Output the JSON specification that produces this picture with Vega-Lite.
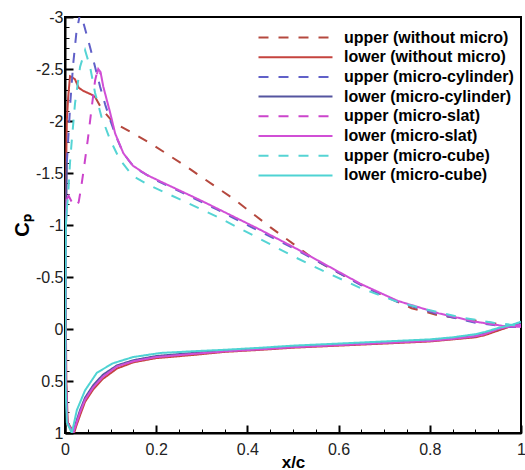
{
"$schema":"https://vega.github.io/schema/vega-lite/v6.json",
"width":456,"height":416,
"autosize":{"type":"none"},
"padding":{"left":65,"top":17,"right":4,"bottom":37},
"background":"white",
"config":{"view":{"stroke":"black","strokeWidth":2},"font":"Liberation Sans","axis":{"grid":false}},
"data":{"values":[
{"s":"upper (without micro)","g":0,"i":0,"x":0.066,"y":-2.23},
{"s":"upper (without micro)","g":0,"i":1,"x":0.08,"y":-2.12},
{"s":"upper (without micro)","g":0,"i":2,"x":0.105,"y":-1.99},
{"s":"upper (without micro)","g":0,"i":3,"x":0.15,"y":-1.88},
{"s":"upper (without micro)","g":0,"i":4,"x":0.186,"y":-1.79},
{"s":"upper (without micro)","g":0,"i":5,"x":0.27,"y":-1.55},
{"s":"upper (without micro)","g":0,"i":6,"x":0.37,"y":-1.25},
{"s":"upper (without micro)","g":0,"i":7,"x":0.45,"y":-0.98},
{"s":"upper (without micro)","g":0,"i":8,"x":0.55,"y":-0.66},
{"s":"upper (without micro)","g":0,"i":9,"x":0.6,"y":-0.54},
{"s":"upper (without micro)","g":0,"i":10,"x":0.68,"y":-0.36},
{"s":"upper (without micro)","g":0,"i":11,"x":0.76,"y":-0.2},
{"s":"upper (without micro)","g":0,"i":12,"x":0.82,"y":-0.13},
{"s":"upper (without micro)","g":0,"i":13,"x":0.87,"y":-0.1},
{"s":"upper (without micro)","g":0,"i":14,"x":0.92,"y":-0.07},
{"s":"upper (without micro)","g":0,"i":15,"x":0.96,"y":-0.04},
{"s":"upper (without micro)","g":0,"i":16,"x":1.0,"y":-0.01},

{"s":"lower (without micro)","g":0,"i":0,"x":1.0,"y":-0.03},
{"s":"lower (without micro)","g":0,"i":1,"x":0.98,"y":-0.03},
{"s":"lower (without micro)","g":0,"i":2,"x":0.96,"y":0.0},
{"s":"lower (without micro)","g":0,"i":3,"x":0.94,"y":0.03},
{"s":"lower (without micro)","g":0,"i":4,"x":0.92,"y":0.06},
{"s":"lower (without micro)","g":0,"i":5,"x":0.9,"y":0.08},
{"s":"lower (without micro)","g":0,"i":6,"x":0.85,"y":0.1},
{"s":"lower (without micro)","g":0,"i":7,"x":0.8,"y":0.12},
{"s":"lower (without micro)","g":0,"i":8,"x":0.7,"y":0.14},
{"s":"lower (without micro)","g":0,"i":9,"x":0.6,"y":0.16},
{"s":"lower (without micro)","g":0,"i":10,"x":0.5,"y":0.18},
{"s":"lower (without micro)","g":0,"i":11,"x":0.43,"y":0.2},
{"s":"lower (without micro)","g":0,"i":12,"x":0.35,"y":0.22},
{"s":"lower (without micro)","g":0,"i":13,"x":0.28,"y":0.25},
{"s":"lower (without micro)","g":0,"i":14,"x":0.2,"y":0.28},
{"s":"lower (without micro)","g":0,"i":15,"x":0.15,"y":0.32},
{"s":"lower (without micro)","g":0,"i":16,"x":0.114,"y":0.38},
{"s":"lower (without micro)","g":0,"i":17,"x":0.083,"y":0.48},
{"s":"lower (without micro)","g":0,"i":18,"x":0.062,"y":0.58},
{"s":"lower (without micro)","g":0,"i":19,"x":0.044,"y":0.7},
{"s":"lower (without micro)","g":0,"i":20,"x":0.033,"y":0.83},
{"s":"lower (without micro)","g":0,"i":21,"x":0.025,"y":0.93},
{"s":"lower (without micro)","g":0,"i":22,"x":0.02,"y":1.0},
{"s":"lower (without micro)","g":0,"i":23,"x":0.006,"y":0.9},
{"s":"lower (without micro)","g":0,"i":24,"x":0.003,"y":0.5},
{"s":"lower (without micro)","g":0,"i":25,"x":0.002,"y":0.0},
{"s":"lower (without micro)","g":0,"i":26,"x":0.002,"y":-1.0},
{"s":"lower (without micro)","g":0,"i":27,"x":0.003,"y":-1.7},
{"s":"lower (without micro)","g":0,"i":28,"x":0.004,"y":-2.01},
{"s":"lower (without micro)","g":0,"i":29,"x":0.007,"y":-2.23},
{"s":"lower (without micro)","g":0,"i":30,"x":0.011,"y":-2.43},
{"s":"lower (without micro)","g":0,"i":31,"x":0.016,"y":-2.42},
{"s":"lower (without micro)","g":0,"i":32,"x":0.022,"y":-2.4},
{"s":"lower (without micro)","g":0,"i":33,"x":0.03,"y":-2.32},
{"s":"lower (without micro)","g":0,"i":34,"x":0.04,"y":-2.29},
{"s":"lower (without micro)","g":0,"i":35,"x":0.05,"y":-2.27},
{"s":"lower (without micro)","g":0,"i":36,"x":0.06,"y":-2.25},
{"s":"lower (without micro)","g":0,"i":37,"x":0.066,"y":-2.23},

{"s":"upper (micro-cylinder)","g":0,"i":0,"x":0.004,"y":-1.6},
{"s":"upper (micro-cylinder)","g":0,"i":1,"x":0.007,"y":-1.82},
{"s":"upper (micro-cylinder)","g":0,"i":2,"x":0.012,"y":-2.2},
{"s":"upper (micro-cylinder)","g":0,"i":3,"x":0.018,"y":-2.55},
{"s":"upper (micro-cylinder)","g":0,"i":4,"x":0.025,"y":-2.85},
{"s":"upper (micro-cylinder)","g":0,"i":5,"x":0.033,"y":-3.03},
{"s":"upper (micro-cylinder)","g":0,"i":6,"x":0.04,"y":-2.95},
{"s":"upper (micro-cylinder)","g":0,"i":7,"x":0.055,"y":-2.71},
{"s":"upper (micro-cylinder)","g":0,"i":8,"x":0.066,"y":-2.52},
{"s":"upper (micro-cylinder)","g":0,"i":9,"x":0.077,"y":-2.33},
{"s":"upper (micro-cylinder)","g":0,"i":10,"x":0.088,"y":-2.16},
{"s":"upper (micro-cylinder)","g":0,"i":11,"x":0.099,"y":-2.01},
{"s":"upper (micro-cylinder)","g":0,"i":12,"x":0.113,"y":-1.84},
{"s":"upper (micro-cylinder)","g":0,"i":13,"x":0.128,"y":-1.69},
{"s":"upper (micro-cylinder)","g":0,"i":14,"x":0.145,"y":-1.59},
{"s":"upper (micro-cylinder)","g":0,"i":15,"x":0.164,"y":-1.52},
{"s":"upper (micro-cylinder)","g":0,"i":16,"x":0.2,"y":-1.43},
{"s":"upper (micro-cylinder)","g":0,"i":17,"x":0.267,"y":-1.29},
{"s":"upper (micro-cylinder)","g":0,"i":18,"x":0.333,"y":-1.15},
{"s":"upper (micro-cylinder)","g":0,"i":19,"x":0.413,"y":-0.97},
{"s":"upper (micro-cylinder)","g":0,"i":20,"x":0.5,"y":-0.78},
{"s":"upper (micro-cylinder)","g":0,"i":21,"x":0.55,"y":-0.66},
{"s":"upper (micro-cylinder)","g":0,"i":22,"x":0.65,"y":-0.42},
{"s":"upper (micro-cylinder)","g":0,"i":23,"x":0.73,"y":-0.26},
{"s":"upper (micro-cylinder)","g":0,"i":24,"x":0.82,"y":-0.14},
{"s":"upper (micro-cylinder)","g":0,"i":25,"x":0.9,"y":-0.06},
{"s":"upper (micro-cylinder)","g":0,"i":26,"x":0.975,"y":-0.02},
{"s":"upper (micro-cylinder)","g":0,"i":27,"x":1.0,"y":-0.02},

{"s":"lower (micro-cylinder)","g":0,"i":0,"x":1.0,"y":-0.05},
{"s":"lower (micro-cylinder)","g":0,"i":1,"x":0.98,"y":-0.03},
{"s":"lower (micro-cylinder)","g":0,"i":2,"x":0.95,"y":0.0},
{"s":"lower (micro-cylinder)","g":0,"i":3,"x":0.92,"y":0.04},
{"s":"lower (micro-cylinder)","g":0,"i":4,"x":0.9,"y":0.07},
{"s":"lower (micro-cylinder)","g":0,"i":5,"x":0.85,"y":0.09},
{"s":"lower (micro-cylinder)","g":0,"i":6,"x":0.8,"y":0.11},
{"s":"lower (micro-cylinder)","g":0,"i":7,"x":0.7,"y":0.13},
{"s":"lower (micro-cylinder)","g":0,"i":8,"x":0.6,"y":0.15},
{"s":"lower (micro-cylinder)","g":0,"i":9,"x":0.5,"y":0.17},
{"s":"lower (micro-cylinder)","g":0,"i":10,"x":0.43,"y":0.19},
{"s":"lower (micro-cylinder)","g":0,"i":11,"x":0.35,"y":0.21},
{"s":"lower (micro-cylinder)","g":0,"i":12,"x":0.28,"y":0.23},
{"s":"lower (micro-cylinder)","g":0,"i":13,"x":0.2,"y":0.26},
{"s":"lower (micro-cylinder)","g":0,"i":14,"x":0.15,"y":0.3},
{"s":"lower (micro-cylinder)","g":0,"i":15,"x":0.114,"y":0.35},
{"s":"lower (micro-cylinder)","g":0,"i":16,"x":0.083,"y":0.44},
{"s":"lower (micro-cylinder)","g":0,"i":17,"x":0.062,"y":0.54},
{"s":"lower (micro-cylinder)","g":0,"i":18,"x":0.044,"y":0.66},
{"s":"lower (micro-cylinder)","g":0,"i":19,"x":0.033,"y":0.78},
{"s":"lower (micro-cylinder)","g":0,"i":20,"x":0.024,"y":0.9},
{"s":"lower (micro-cylinder)","g":0,"i":21,"x":0.018,"y":1.0},
{"s":"lower (micro-cylinder)","g":0,"i":22,"x":0.005,"y":0.9},
{"s":"lower (micro-cylinder)","g":0,"i":23,"x":0.002,"y":0.5},
{"s":"lower (micro-cylinder)","g":0,"i":24,"x":0.001,"y":0.0},
{"s":"lower (micro-cylinder)","g":0,"i":25,"x":0.002,"y":-1.0},
{"s":"lower (micro-cylinder)","g":0,"i":26,"x":0.004,"y":-1.6},

{"s":"upper (micro-slat)","g":0,"i":0,"x":0.004,"y":-1.25},
{"s":"upper (micro-slat)","g":0,"i":1,"x":0.008,"y":-1.28},
{"s":"upper (micro-slat)","g":0,"i":2,"x":0.015,"y":-1.22},
{"s":"upper (micro-slat)","g":0,"i":3,"x":0.024,"y":-1.18},
{"s":"upper (micro-slat)","g":0,"i":4,"x":0.03,"y":-1.22},
{"s":"upper (micro-slat)","g":0,"i":5,"x":0.035,"y":-1.35},
{"s":"upper (micro-slat)","g":0,"i":6,"x":0.04,"y":-1.5},
{"s":"upper (micro-slat)","g":0,"i":7,"x":0.05,"y":-1.82},
{"s":"upper (micro-slat)","g":0,"i":8,"x":0.058,"y":-2.11},
{"s":"upper (micro-slat)","g":0,"i":9,"x":0.066,"y":-2.39},
{"s":"upper (micro-slat)","g":0,"i":10,"x":0.071,"y":-2.48},
{"s":"upper (micro-slat)","g":0,"i":11,"x":0.074,"y":-2.5},
{"s":"upper (micro-slat)","g":0,"i":12,"x":0.078,"y":-2.45},

{"s":"lower (micro-slat)","g":0,"i":0,"x":1.0,"y":-0.04},
{"s":"lower (micro-slat)","g":0,"i":1,"x":0.98,"y":-0.03},
{"s":"lower (micro-slat)","g":0,"i":2,"x":0.95,"y":0.0},
{"s":"lower (micro-slat)","g":0,"i":3,"x":0.92,"y":0.05},
{"s":"lower (micro-slat)","g":0,"i":4,"x":0.9,"y":0.07},
{"s":"lower (micro-slat)","g":0,"i":5,"x":0.85,"y":0.095},
{"s":"lower (micro-slat)","g":0,"i":6,"x":0.8,"y":0.115},
{"s":"lower (micro-slat)","g":0,"i":7,"x":0.7,"y":0.135},
{"s":"lower (micro-slat)","g":0,"i":8,"x":0.6,"y":0.155},
{"s":"lower (micro-slat)","g":0,"i":9,"x":0.5,"y":0.175},
{"s":"lower (micro-slat)","g":0,"i":10,"x":0.43,"y":0.195},
{"s":"lower (micro-slat)","g":0,"i":11,"x":0.35,"y":0.215},
{"s":"lower (micro-slat)","g":0,"i":12,"x":0.28,"y":0.24},
{"s":"lower (micro-slat)","g":0,"i":13,"x":0.2,"y":0.27},
{"s":"lower (micro-slat)","g":0,"i":14,"x":0.15,"y":0.31},
{"s":"lower (micro-slat)","g":0,"i":15,"x":0.114,"y":0.36},
{"s":"lower (micro-slat)","g":0,"i":16,"x":0.083,"y":0.46},
{"s":"lower (micro-slat)","g":0,"i":17,"x":0.062,"y":0.56},
{"s":"lower (micro-slat)","g":0,"i":18,"x":0.044,"y":0.68},
{"s":"lower (micro-slat)","g":0,"i":19,"x":0.033,"y":0.8},
{"s":"lower (micro-slat)","g":0,"i":20,"x":0.024,"y":0.92},
{"s":"lower (micro-slat)","g":0,"i":21,"x":0.018,"y":1.0},
{"s":"lower (micro-slat)","g":0,"i":22,"x":0.005,"y":0.9},
{"s":"lower (micro-slat)","g":0,"i":23,"x":0.002,"y":0.5},
{"s":"lower (micro-slat)","g":0,"i":24,"x":0.001,"y":0.0},
{"s":"lower (micro-slat)","g":0,"i":25,"x":0.002,"y":-1.0},
{"s":"lower (micro-slat)","g":0,"i":26,"x":0.004,"y":-1.25},
{"s":"lower (micro-slat)","g":1,"i":27,"x":0.07,"y":-2.45},
{"s":"lower (micro-slat)","g":1,"i":28,"x":0.073,"y":-2.5},
{"s":"lower (micro-slat)","g":1,"i":29,"x":0.078,"y":-2.47},
{"s":"lower (micro-slat)","g":1,"i":30,"x":0.084,"y":-2.33},
{"s":"lower (micro-slat)","g":1,"i":31,"x":0.099,"y":-2.08},
{"s":"lower (micro-slat)","g":1,"i":32,"x":0.11,"y":-1.88},
{"s":"lower (micro-slat)","g":1,"i":33,"x":0.128,"y":-1.69},
{"s":"lower (micro-slat)","g":1,"i":34,"x":0.149,"y":-1.57},
{"s":"lower (micro-slat)","g":1,"i":35,"x":0.18,"y":-1.48},
{"s":"lower (micro-slat)","g":1,"i":36,"x":0.223,"y":-1.39},
{"s":"lower (micro-slat)","g":1,"i":37,"x":0.296,"y":-1.24},
{"s":"lower (micro-slat)","g":1,"i":38,"x":0.37,"y":-1.08},
{"s":"lower (micro-slat)","g":1,"i":39,"x":0.43,"y":-0.95},
{"s":"lower (micro-slat)","g":1,"i":40,"x":0.5,"y":-0.79},
{"s":"lower (micro-slat)","g":1,"i":41,"x":0.55,"y":-0.67},
{"s":"lower (micro-slat)","g":1,"i":42,"x":0.65,"y":-0.43},
{"s":"lower (micro-slat)","g":1,"i":43,"x":0.73,"y":-0.27},
{"s":"lower (micro-slat)","g":1,"i":44,"x":0.82,"y":-0.15},
{"s":"lower (micro-slat)","g":1,"i":45,"x":0.9,"y":-0.07},
{"s":"lower (micro-slat)","g":1,"i":46,"x":0.96,"y":-0.03},
{"s":"lower (micro-slat)","g":1,"i":47,"x":1.0,"y":-0.02},

{"s":"upper (micro-cube)","g":0,"i":0,"x":0.004,"y":-1.15},
{"s":"upper (micro-cube)","g":0,"i":1,"x":0.007,"y":-1.3},
{"s":"upper (micro-cube)","g":0,"i":2,"x":0.011,"y":-1.6},
{"s":"upper (micro-cube)","g":0,"i":3,"x":0.015,"y":-1.82},
{"s":"upper (micro-cube)","g":0,"i":4,"x":0.022,"y":-2.17},
{"s":"upper (micro-cube)","g":0,"i":5,"x":0.033,"y":-2.52},
{"s":"upper (micro-cube)","g":0,"i":6,"x":0.044,"y":-2.68},
{"s":"upper (micro-cube)","g":0,"i":7,"x":0.055,"y":-2.52},
{"s":"upper (micro-cube)","g":0,"i":8,"x":0.066,"y":-2.27},
{"s":"upper (micro-cube)","g":0,"i":9,"x":0.08,"y":-2.04},
{"s":"upper (micro-cube)","g":0,"i":10,"x":0.099,"y":-1.82},
{"s":"upper (micro-cube)","g":0,"i":11,"x":0.12,"y":-1.63},
{"s":"upper (micro-cube)","g":0,"i":12,"x":0.149,"y":-1.47},
{"s":"upper (micro-cube)","g":0,"i":13,"x":0.186,"y":-1.38},
{"s":"upper (micro-cube)","g":0,"i":14,"x":0.26,"y":-1.23},
{"s":"upper (micro-cube)","g":0,"i":15,"x":0.333,"y":-1.08},
{"s":"upper (micro-cube)","g":0,"i":16,"x":0.413,"y":-0.9},
{"s":"upper (micro-cube)","g":0,"i":17,"x":0.5,"y":-0.7},
{"s":"upper (micro-cube)","g":0,"i":18,"x":0.57,"y":-0.55},
{"s":"upper (micro-cube)","g":0,"i":19,"x":0.65,"y":-0.39},
{"s":"upper (micro-cube)","g":0,"i":20,"x":0.73,"y":-0.26},
{"s":"upper (micro-cube)","g":0,"i":21,"x":0.8,"y":-0.18},
{"s":"upper (micro-cube)","g":0,"i":22,"x":0.87,"y":-0.11},
{"s":"upper (micro-cube)","g":0,"i":23,"x":0.94,"y":-0.06},
{"s":"upper (micro-cube)","g":0,"i":24,"x":1.0,"y":-0.03},

{"s":"lower (micro-cube)","g":0,"i":0,"x":1.0,"y":-0.07},
{"s":"lower (micro-cube)","g":0,"i":1,"x":0.98,"y":-0.04},
{"s":"lower (micro-cube)","g":0,"i":2,"x":0.95,"y":-0.01},
{"s":"lower (micro-cube)","g":0,"i":3,"x":0.92,"y":0.03},
{"s":"lower (micro-cube)","g":0,"i":4,"x":0.9,"y":0.05},
{"s":"lower (micro-cube)","g":0,"i":5,"x":0.85,"y":0.08},
{"s":"lower (micro-cube)","g":0,"i":6,"x":0.8,"y":0.1},
{"s":"lower (micro-cube)","g":0,"i":7,"x":0.7,"y":0.12},
{"s":"lower (micro-cube)","g":0,"i":8,"x":0.6,"y":0.14},
{"s":"lower (micro-cube)","g":0,"i":9,"x":0.5,"y":0.16},
{"s":"lower (micro-cube)","g":0,"i":10,"x":0.43,"y":0.18},
{"s":"lower (micro-cube)","g":0,"i":11,"x":0.35,"y":0.2},
{"s":"lower (micro-cube)","g":0,"i":12,"x":0.3,"y":0.21},
{"s":"lower (micro-cube)","g":0,"i":13,"x":0.21,"y":0.23},
{"s":"lower (micro-cube)","g":0,"i":14,"x":0.149,"y":0.27},
{"s":"lower (micro-cube)","g":0,"i":15,"x":0.105,"y":0.33},
{"s":"lower (micro-cube)","g":0,"i":16,"x":0.07,"y":0.42},
{"s":"lower (micro-cube)","g":0,"i":17,"x":0.044,"y":0.59},
{"s":"lower (micro-cube)","g":0,"i":18,"x":0.026,"y":0.78},
{"s":"lower (micro-cube)","g":0,"i":19,"x":0.015,"y":1.0},
{"s":"lower (micro-cube)","g":0,"i":20,"x":0.004,"y":0.9},
{"s":"lower (micro-cube)","g":0,"i":21,"x":0.001,"y":0.5},
{"s":"lower (micro-cube)","g":0,"i":22,"x":0.001,"y":0.0},
{"s":"lower (micro-cube)","g":0,"i":23,"x":0.002,"y":-1.0},
{"s":"lower (micro-cube)","g":0,"i":24,"x":0.004,"y":-1.15}
]},
"layer":[
{"mark":{"type":"line","strokeWidth":2,"clip":true},
 "encoding":{
  "x":{"field":"x","type":"quantitative","scale":{"domain":[0,1],"nice":false,"zero":false},
   "axis":{"orient":"bottom","values":[0,0.2,0.4,0.6,0.8,1],"tickSize":-8,"tickWidth":2,"tickColor":"black","domainColor":"black","domainWidth":2,"labelFontSize":16,"labelColor":"#222","labelPadding":16,"labelFlush":false,"labelExpr":"format(datum.value,'~g')","title":"x/c","titleFontSize":17,"titleFontWeight":"bold","titleColor":"black","titlePadding":-3}},
  "y":{"field":"y","type":"quantitative","scale":{"domain":[-3,1],"reverse":true,"nice":false,"zero":false},
   "axis":{"orient":"left","values":[-3,-2.5,-2,-1.5,-1,-0.5,0,0.5,1],"tickSize":-8,"tickWidth":2,"tickColor":"black","domainColor":"black","domainWidth":2,"labelFontSize":16,"labelColor":"#222","labelPadding":10,"labelFlush":false,"labelExpr":"datum.value < 0 ? '-' + format(-datum.value,'~g') : format(datum.value,'~g')","title":"Cₚ","titleFontSize":20,"titleFontWeight":"bold","titleColor":"black","titlePadding":3}},
  "color":{"field":"s","type":"nominal",
   "scale":{"domain":["upper (without micro)","lower (without micro)","upper (micro-cylinder)","lower (micro-cylinder)","upper (micro-slat)","lower (micro-slat)","upper (micro-cube)","lower (micro-cube)"],
            "range":["#b5483e","#c5443f","#6060c8","#55559f","#cc44cc","#d14fd6","#55d4d4","#4fd3d3"]},
   "legend":{"orient":"none","legendX":222,"legendY":12,"title":null,"symbolType":"M-5,0H5","symbolSize":219,"symbolStrokeWidth":2,"labelFontSize":16,"labelFontWeight":"bold","labelColor":"black","labelOffset":40,"rowPadding":2.7,"padding":0,"labelLimit":300}},
  "strokeDash":{"field":"s","type":"nominal",
   "scale":{"domain":["upper (without micro)","lower (without micro)","upper (micro-cylinder)","lower (micro-cylinder)","upper (micro-slat)","lower (micro-slat)","upper (micro-cube)","lower (micro-cube)"],
            "range":[[10,10],[1,0],[10,10],[1,0],[10,10],[1,0],[10,10],[1,0]]},
   "legend":{"orient":"none","legendX":222,"legendY":12,"title":null,"symbolType":"M-5,0H5","symbolSize":219,"symbolStrokeWidth":2,"labelFontSize":16,"labelFontWeight":"bold","labelColor":"black","labelOffset":40,"rowPadding":2.7,"padding":0,"labelLimit":300}},
  "detail":{"field":"g","type":"nominal"},
  "order":{"field":"i","type":"quantitative"}
 }},
{"mark":{"type":"point","opacity":0},
 "encoding":{
  "x":{"field":"x","type":"quantitative","axis":{"orient":"bottom","values":[0.05,0.1,0.15,0.25,0.3,0.35,0.45,0.5,0.55,0.65,0.7,0.75,0.85,0.9,0.95],"tickSize":-4,"tickWidth":1,"tickColor":"black","domain":false,"labels":false,"title":null}},
  "y":{"field":"y","type":"quantitative","axis":{"orient":"left","values":[-2.9,-2.8,-2.7,-2.6,-2.4,-2.3,-2.2,-2.1,-1.9,-1.8,-1.7,-1.6,-1.4,-1.3,-1.2,-1.1,-0.9,-0.8,-0.7,-0.6,-0.4,-0.3,-0.2,-0.1,0.1,0.2,0.3,0.4,0.6,0.7,0.8,0.9],"tickSize":-4,"tickWidth":1,"tickColor":"black","domain":false,"labels":false,"title":null}}
 }}
],
"resolve":{"axis":{"x":"independent","y":"independent"}}
}
